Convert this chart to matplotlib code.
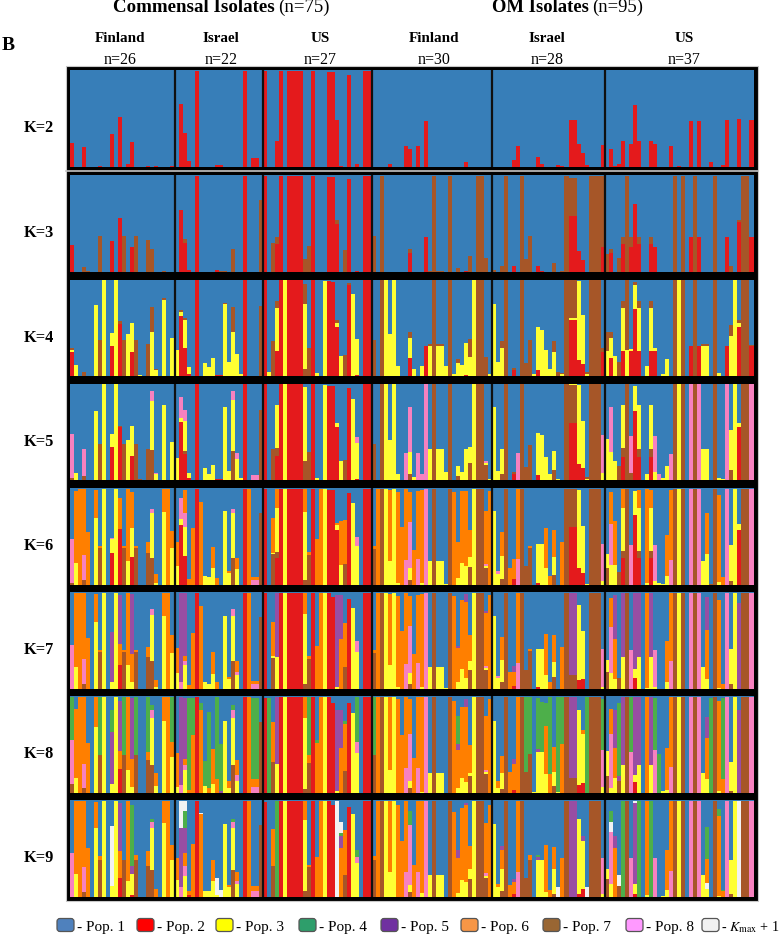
import matplotlib
matplotlib.use("Agg")
import matplotlib.pyplot as plt
from matplotlib.patches import FancyBboxPatch, Rectangle

plt.rcParams['font.family'] = ['Liberation Serif', 'DejaVu Serif']

# bar -> [(population, cumulative membership %), ...] bottom to top, the rest is pop. 1
# 1 blue, 2 red, 3 yellow, 4 green, 5 purple, 6 orange, 7 brown, 8 pink, 9 Kmax+1
group_names = ['Finland', 'Israel', 'US', 'Finland', 'Israel', 'US']
group_sizes = [26, 22, 27, 30, 28, 37]
k_values = [2, 3, 4, 5, 6, 7, 8, 9]
legend_names = ['Pop. 1', 'Pop. 2', 'Pop. 3', 'Pop. 4', 'Pop. 5', 'Pop. 6', 'Pop. 7', 'Pop. 8']

k2_red = {0: 24, 3: 20, 7: 1, 10: 34, 12: 51, 14: 3, 15: 25, 19: 1, 21: 1, 25: 1,
          27: 65, 28: 35, 29: 6, 31: 99, 36: 2, 37: 2, 43: 99, 45: 9, 46: 9,
          48: 99, 51: 26, 52: 99, 54: 99, 55: 99, 56: 99, 57: 99, 60: 99, 64: 98, 65: 98,
          66: 48, 67: 1, 69: 95, 71: 3, 73: 99, 74: 99,
          79: 3, 83: 21, 84: 18, 86: 21, 88: 47, 98: 5,
          110: 7, 111: 21, 116: 10, 117: 3, 121: 2, 122: 1, 124: 48, 125: 48, 126: 23, 127: 14, 128: 2, 132: 22,
          134: 18, 135: 1, 136: 3, 137: 26, 139: 23, 140: 64, 141: 26, 144: 26, 145: 23, 149: 21, 151: 1,
          154: 47, 156: 47, 159: 5, 162: 2, 163: 48, 166: 49, 169: 48}

k3 = {0: [(2, 27)], 3: [(7, 5)], 4: [(7, 1)], 7: [(7, 37)], 10: [(2, 32)], 12: [(2, 55)], 13: [(7, 37)],
      15: [(2, 25)], 16: [(7, 37)], 19: [(7, 33)], 20: [(7, 23)], 23: [(7, 1)],
      27: [(2, 64)], 28: [(2, 30), (7, 34)], 29: [(2, 2)], 31: [(2, 99)], 36: [(2, 2)], 37: [(7, 1)], 38: [(7, 1)],
      40: [(7, 23)], 43: [(2, 99)], 47: [(7, 74)],
      48: [(2, 99)], 50: [(7, 30)], 51: [(2, 28), (7, 36)], 52: [(2, 99)], 54: [(2, 99)], 55: [(2, 99)],
      56: [(2, 99)], 57: [(2, 99)], 58: [(7, 13)], 59: [(7, 26)], 60: [(2, 99)], 64: [(2, 98)], 65: [(2, 98)],
      66: [(2, 49), (7, 53)], 68: [(7, 22)], 69: [(2, 96)], 71: [(2, 1)], 73: [(2, 99)], 74: [(2, 99)],
      75: [(7, 37)], 77: [(7, 99)], 84: [(2, 19), (7, 23)], 88: [(2, 36)], 89: [(7, 1)], 90: [(7, 99)],
      91: [(7, 1)], 92: [(7, 1)], 94: [(7, 99)], 96: [(7, 4)], 98: [(2, 1)], 99: [(7, 16)],
      101: [(7, 99)], 102: [(7, 99)], 103: [(7, 14)],
      105: [(7, 2)], 107: [(7, 6)], 108: [(7, 99)], 110: [(2, 6)], 112: [(7, 99)], 113: [(7, 13)], 114: [(7, 37)],
      116: [(2, 6)], 117: [(2, 1)], 120: [(7, 9)], 122: [(7, 1)], 123: [(7, 99)],
      124: [(2, 58), (7, 97)], 125: [(2, 58), (7, 97)], 126: [(2, 21)], 127: [(2, 12)],
      129: [(7, 99)], 130: [(7, 99)], 131: [(7, 99)], 132: [(2, 25), (7, 99)],
      133: [(7, 18)], 134: [(2, 19), (7, 23)], 136: [(7, 14)], 137: [(2, 28), (7, 36)], 138: [(7, 99)],
      139: [(2, 25), (7, 36)], 140: [(2, 70)], 141: [(2, 28), (7, 36)], 144: [(2, 28), (7, 36)], 145: [(2, 25)],
      150: [(7, 99)], 152: [(7, 99)], 154: [(2, 36)], 155: [(7, 99)], 156: [(2, 36)], 160: [(7, 99)],
      163: [(2, 36)], 164: [(7, 6)], 166: [(2, 51), (7, 53)], 167: [(7, 99)], 168: [(7, 99)], 169: [(2, 36)]}

k4 = {0: [(2, 25), (3, 27), (7, 29)], 1: [(3, 11)], 3: [(7, 4)], 6: [(3, 74)], 7: [(7, 37)], 8: [(3, 99)],
      10: [(2, 31), (3, 45)], 11: [(3, 99)], 12: [(2, 54), (7, 57)], 13: [(7, 37)], 14: [(3, 44)],
      15: [(2, 25), (3, 55)], 16: [(7, 37)], 17: [(3, 1)], 19: [(7, 33)], 20: [(3, 46), (7, 72)],
      21: [(3, 6), (7, 7)], 23: [(3, 79), (7, 81)], 25: [(3, 39)],
      26: [(3, 27)], 27: [(2, 62), (3, 66), (7, 68)], 28: [(2, 29), (3, 58), (7, 60)], 29: [(2, 2), (3, 9)],
      31: [(2, 99)], 33: [(3, 13)], 34: [(3, 9)], 35: [(3, 19)], 36: [(2, 1)], 37: [(2, 1)], 38: [(3, 75), (7, 76)],
      39: [(3, 15)], 40: [(3, 46), (7, 72)], 41: [(3, 23)], 42: [(3, 2)], 43: [(2, 99)], 47: [(7, 73)],
      48: [(2, 99)], 49: [(3, 4)], 50: [(7, 36)], 51: [(2, 26), (3, 70), (7, 78)], 52: [(2, 99)], 53: [(3, 99)],
      54: [(2, 99)], 55: [(2, 99)], 56: [(2, 99)], 57: [(2, 99)], 58: [(7, 7), (3, 75), (7, 95)], 59: [(7, 29)],
      60: [(2, 99)], 61: [(3, 3)], 63: [(3, 98)], 64: [(2, 98)], 65: [(2, 97)], 66: [(2, 51), (3, 55), (7, 58)],
      67: [(3, 21)], 68: [(7, 22)], 69: [(2, 94), (7, 96)], 70: [(3, 85)], 71: [(2, 1), (3, 38)], 73: [(2, 99)], 74: [(2, 99)],
      75: [(7, 37)], 77: [(7, 99)], 78: [(3, 99)], 79: [(3, 44)], 80: [(3, 99)], 81: [(3, 10)],
      84: [(2, 19), (3, 39), (7, 46)], 85: [(3, 7)], 87: [(3, 10)], 88: [(2, 31)], 89: [(3, 31), (7, 33)], 90: [(7, 99)],
      91: [(3, 31), (7, 33)], 92: [(3, 31), (7, 33)], 93: [(3, 10)], 94: [(7, 99)], 95: [(3, 2)], 96: [(3, 13), (7, 18)],
      97: [(3, 11)], 98: [(2, 1), (3, 34)], 99: [(3, 20), (7, 38)], 100: [(3, 99)], 101: [(7, 99)], 102: [(7, 99)],
      103: [(7, 20)], 104: [(3, 2)],
      105: [(3, 75)], 106: [(3, 14)], 107: [(3, 29), (7, 36)], 108: [(7, 99)], 110: [(2, 6), (7, 8)], 112: [(7, 99)],
      113: [(7, 13)], 114: [(7, 37)], 115: [(3, 2)], 116: [(2, 6), (3, 51)], 117: [(3, 48)], 118: [(3, 27)], 119: [(3, 7)],
      120: [(3, 25), (7, 36)], 121: [(7, 4)], 122: [(3, 2), (7, 3)], 123: [(7, 99)],
      124: [(2, 58), (3, 60), (7, 99)], 125: [(2, 58), (3, 60), (7, 99)], 126: [(2, 17), (3, 98)], 127: [(2, 12), (3, 63)],
      128: [(3, 2), (7, 4)], 129: [(7, 99)], 130: [(7, 99)], 131: [(7, 99)], 132: [(2, 25), (7, 29)],
      133: [(3, 26), (7, 46)], 134: [(2, 19), (3, 39), (7, 46)], 135: [(3, 21)], 136: [(7, 15)],
      137: [(2, 26), (3, 70), (7, 78)], 138: [(3, 27), (7, 99)], 139: [(2, 26), (3, 28)], 140: [(2, 69), (3, 94), (7, 97)],
      141: [(2, 26), (3, 70), (7, 78)], 143: [(3, 10)], 144: [(2, 26), (3, 70), (7, 78)], 145: [(2, 26), (3, 29)],
      147: [(3, 2)], 148: [(3, 18)], 150: [(7, 99)], 151: [(3, 99)], 152: [(7, 99)], 154: [(2, 31)], 155: [(7, 99)],
      156: [(2, 31)], 157: [(3, 31), (7, 33)], 158: [(3, 31), (7, 33)], 160: [(7, 99)], 161: [(3, 3)], 163: [(2, 31)],
      164: [(3, 41), (7, 53)], 165: [(3, 99)], 166: [(2, 51), (3, 55), (7, 58)], 167: [(7, 99)], 168: [(7, 99)],
      169: [(2, 31), (7, 32)]}

k5 = {0: [(7, 2), (8, 48)], 1: [(3, 7)], 3: [(7, 4), (8, 32)], 6: [(3, 72)], 7: [(7, 37)], 8: [(3, 99)],
      10: [(2, 34), (3, 48)], 11: [(3, 99)], 12: [(2, 55), (7, 56)], 13: [(7, 37)], 14: [(3, 41)], 15: [(2, 25), (3, 56)],
      16: [(7, 37)], 17: [(7, 1)], 19: [(7, 32)], 20: [(7, 31), (3, 82), (8, 92)], 21: [(3, 6), (8, 7)], 23: [(3, 78)], 25: [(3, 39)],
      26: [(3, 23)], 27: [(2, 60), (3, 64), (8, 86)], 28: [(2, 27), (7, 30), (3, 61), (8, 73)], 29: [(2, 2), (3, 7)],
      31: [(2, 99)], 33: [(3, 12)], 34: [(3, 6)], 35: [(3, 16)], 36: [(2, 1)], 37: [(2, 1)], 38: [(3, 76)], 39: [(3, 9)],
      40: [(7, 30), (3, 83), (8, 92)], 41: [(3, 22), (8, 28)], 42: [(3, 2)], 43: [(2, 99)], 45: [(8, 5)], 46: [(8, 5)], 47: [(7, 73)],
      48: [(2, 99)], 50: [(7, 32)], 51: [(2, 25), (7, 33), (3, 78)], 52: [(2, 99)], 53: [(3, 99)], 54: [(2, 99)], 55: [(2, 99)],
      56: [(2, 99)], 57: [(2, 99)], 58: [(7, 20), (3, 96)], 59: [(7, 29)], 60: [(2, 99)], 61: [(3, 2)], 63: [(3, 98)],
      64: [(2, 97)], 65: [(2, 97)], 66: [(2, 55), (3, 59)], 67: [(3, 20)], 68: [(7, 21)], 69: [(2, 95)], 70: [(3, 84)],
      71: [(2, 1), (3, 38), (8, 45)], 73: [(2, 99)], 74: [(2, 99)],
      75: [(7, 37)], 77: [(7, 99)], 78: [(3, 99)], 79: [(3, 41)], 80: [(3, 99)], 81: [(3, 6)], 83: [(8, 28)],
      84: [(7, 6), (3, 29), (8, 76)], 85: [(3, 3)], 86: [(8, 28)], 87: [(8, 6)], 88: [(8, 99)], 89: [(3, 32)], 90: [(7, 99)],
      91: [(3, 32)], 92: [(3, 32)], 93: [(3, 8)], 94: [(7, 99)], 96: [(7, 4), (3, 15)], 97: [(3, 8)], 98: [(3, 32)],
      99: [(7, 18), (3, 34)], 100: [(3, 99)], 101: [(7, 99)], 102: [(7, 99)], 103: [(7, 16), (3, 18), (8, 20)], 104: [(3, 1)],
      105: [(3, 76)], 106: [(3, 9)], 107: [(7, 6), (3, 32)], 108: [(7, 99)], 110: [(2, 6), (7, 8)], 111: [(8, 28)], 112: [(7, 99)],
      113: [(7, 13)], 114: [(7, 36)], 116: [(2, 5), (3, 49)], 117: [(3, 47)], 118: [(3, 24)], 119: [(3, 6)],
      120: [(7, 10), (3, 30)], 121: [(3, 1)], 123: [(7, 99)], 124: [(2, 59), (7, 98), (3, 99)], 125: [(2, 59), (7, 98), (3, 99)],
      126: [(2, 17), (3, 98)], 127: [(2, 12), (3, 61)], 128: [(3, 1), (7, 3)], 129: [(7, 99)], 130: [(7, 99)], 131: [(7, 99)],
      132: [(3, 7), (8, 47)],
      133: [(3, 43)], 134: [(3, 29), (8, 76)], 135: [(3, 20)], 136: [(7, 15)], 137: [(2, 24), (7, 33), (3, 78)], 138: [(7, 99)],
      139: [(7, 7), (8, 46)], 140: [(2, 71), (3, 97)], 141: [(2, 24), (7, 32), (3, 78)], 143: [(3, 6)], 144: [(2, 24), (7, 32), (3, 78)],
      145: [(3, 8), (8, 46)], 146: [(8, 6)], 147: [(3, 2)], 148: [(3, 14)], 149: [(8, 27)], 150: [(7, 99)], 151: [(3, 99)],
      152: [(7, 99)], 154: [(8, 99)], 155: [(7, 99)], 156: [(8, 99)], 157: [(3, 32)], 158: [(3, 32)], 160: [(7, 99)],
      161: [(3, 2)], 162: [(3, 1)], 163: [(8, 99)], 164: [(7, 10), (3, 52)], 165: [(3, 99)], 166: [(2, 55), (3, 59)],
      167: [(7, 99)], 168: [(7, 99)], 169: [(8, 99)]}

k6 = {0: [(7, 2), (8, 47)], 1: [(3, 22), (6, 97)], 2: [(6, 99)], 3: [(7, 5), (8, 31), (6, 99)], 4: [(6, 54)],
      6: [(3, 69), (6, 98)], 7: [(7, 38), (6, 40)], 8: [(3, 99)], 10: [(2, 33), (3, 47), (8, 48)], 11: [(3, 99)],
      12: [(2, 58), (6, 90)], 13: [(7, 38), (6, 40)], 14: [(3, 24), (6, 99)], 15: [(2, 29), (3, 59), (6, 96)], 16: [(7, 38), (6, 40)],
      19: [(7, 33), (6, 44)], 20: [(7, 27), (3, 74), (8, 78)], 21: [(3, 2), (6, 11)], 23: [(3, 75), (6, 99)], 24: [(6, 99)],
      25: [(3, 38), (6, 55)],
      26: [(3, 19), (6, 44)], 27: [(2, 62), (3, 68), (8, 90)], 28: [(2, 30), (3, 60), (8, 74), (6, 98)], 29: [(6, 6)],
      30: [(6, 59)], 31: [(2, 99)], 32: [(6, 85)], 33: [(3, 9)], 34: [(3, 8)], 35: [(3, 17), (6, 39)], 36: [(6, 7)],
      38: [(3, 76)], 39: [(3, 12), (6, 14)], 40: [(7, 27), (3, 74), (8, 78)], 41: [(3, 16), (6, 27)], 43: [(2, 99)], 44: [(6, 99)],
      45: [(8, 5), (6, 8)], 46: [(8, 5), (6, 8)], 47: [(7, 74)],
      48: [(2, 99)], 50: [(7, 32), (3, 33), (6, 69)], 51: [(2, 27), (7, 34), (3, 79), (6, 99)], 52: [(2, 99)], 53: [(3, 99)],
      54: [(2, 99)], 55: [(2, 99)], 56: [(2, 99)], 57: [(2, 99)], 58: [(7, 5), (3, 75), (6, 99)], 59: [(7, 31), (6, 34)],
      60: [(2, 99)], 61: [(6, 47)], 62: [(6, 99)], 63: [(3, 99)], 64: [(2, 98)], 65: [(2, 98)], 66: [(2, 56), (3, 62), (6, 64)],
      67: [(3, 20), (6, 66)], 68: [(7, 21), (6, 67)], 69: [(2, 95)], 70: [(3, 84)], 71: [(3, 40), (8, 49)], 73: [(2, 99)], 74: [(2, 99)],
      75: [(7, 37), (6, 40)], 76: [(6, 99)], 77: [(7, 99)], 78: [(3, 99)], 79: [(3, 24), (6, 98)], 80: [(3, 99)], 81: [(3, 2), (6, 96)],
      82: [(6, 60)], 83: [(8, 25), (6, 99)], 84: [(7, 5), (3, 17), (8, 65), (6, 96)], 85: [(6, 36)], 86: [(8, 26), (6, 97)],
      87: [(3, 2), (6, 98)], 88: [(8, 99)], 89: [(3, 24)], 90: [(7, 99)], 91: [(3, 24)], 92: [(3, 24)], 93: [(3, 1)], 94: [(7, 99)],
      95: [(6, 96)], 96: [(3, 7), (6, 44)], 97: [(3, 22), (6, 97)], 98: [(3, 19), (6, 97)], 99: [(7, 18), (3, 28), (6, 56)],
      100: [(3, 99)], 101: [(7, 99)], 102: [(7, 99)], 103: [(7, 17), (3, 19), (8, 21), (6, 76)], 104: [(6, 97)],
      105: [(3, 76)], 106: [(3, 11), (8, 14)], 107: [(7, 6), (3, 30), (6, 54)], 108: [(7, 99)], 109: [(6, 17)], 110: [(2, 6), (6, 26)],
      111: [(8, 26), (6, 99)], 112: [(7, 99)], 113: [(7, 19)], 114: [(7, 38), (6, 40)], 116: [(2, 2), (3, 42)], 117: [(3, 42)],
      118: [(3, 17), (6, 59)], 119: [(6, 9)], 120: [(7, 10), (3, 28), (6, 56)], 122: [(6, 44)], 123: [(7, 99)],
      124: [(2, 60), (7, 99)], 125: [(2, 60), (7, 99)], 126: [(2, 17), (3, 98)], 127: [(2, 12), (3, 61)], 128: [(3, 1)],
      129: [(7, 99)], 130: [(7, 99)], 131: [(7, 99)], 132: [(3, 4), (8, 42)],
      133: [(7, 17), (3, 32)], 134: [(3, 20), (8, 63), (6, 96)], 135: [(3, 20), (6, 66)], 136: [(7, 13)], 137: [(2, 27), (7, 35), (3, 79), (6, 99)],
      138: [(7, 99)], 139: [(8, 41)], 140: [(2, 72), (3, 97)], 141: [(2, 27), (7, 35), (3, 79), (6, 98)], 143: [(3, 2), (6, 99)],
      144: [(2, 27), (7, 35), (3, 79), (6, 98)], 145: [(3, 4), (8, 41)], 146: [(3, 2)], 147: [(3, 1)], 148: [(3, 9), (6, 51)],
      149: [(8, 25), (6, 98)], 150: [(7, 99)], 151: [(3, 99)], 152: [(7, 99)], 154: [(8, 99)], 155: [(7, 99)], 156: [(8, 99)],
      157: [(3, 24)], 158: [(3, 32), (6, 74)], 159: [(7, 1)], 160: [(7, 99)], 161: [(3, 3), (6, 93)], 162: [(6, 8)], 163: [(8, 99)],
      164: [(7, 4), (3, 41)], 165: [(3, 99)], 166: [(2, 56), (3, 63)], 167: [(7, 99)], 168: [(7, 99)], 169: [(8, 99)]}

k7 = {0: [(8, 45)], 1: [(3, 22), (6, 99)], 2: [(6, 99)], 3: [(7, 5), (8, 31), (6, 99)], 4: [(6, 52)], 6: [(3, 69), (6, 98)],
      7: [(7, 38), (6, 40)], 8: [(3, 99)], 10: [(3, 7), (5, 59)], 11: [(3, 99)], 12: [(2, 24), (6, 46), (5, 97)], 13: [(7, 38), (6, 40)],
      14: [(3, 24), (6, 99)], 15: [(3, 7), (6, 36), (5, 98)], 16: [(7, 38), (6, 40)], 19: [(7, 33), (6, 43)], 20: [(7, 28), (3, 76), (8, 82)],
      21: [(3, 2), (6, 9)], 23: [(3, 75), (6, 99)], 24: [(6, 99)], 25: [(3, 37), (6, 55)],
      26: [(3, 16), (6, 42)], 27: [(8, 7), (5, 99)], 28: [(3, 24), (8, 28), (6, 34), (5, 99)], 29: [(6, 4)], 30: [(6, 57)], 31: [(2, 99)],
      32: [(6, 85)], 33: [(3, 7)], 34: [(3, 5)], 35: [(3, 15), (6, 38)], 36: [(6, 7)], 38: [(3, 75)], 39: [(3, 10), (6, 12)],
      40: [(7, 28), (3, 75), (8, 82)], 41: [(3, 14), (8, 17), (6, 28)], 43: [(2, 99)], 44: [(6, 99)], 45: [(8, 5), (6, 8)], 46: [(8, 5), (6, 8)], 47: [(7, 74)],
      48: [(2, 99)], 50: [(7, 32), (3, 34), (6, 69)], 51: [(3, 33), (5, 99)], 52: [(2, 99)], 53: [(3, 99)], 54: [(2, 99)], 55: [(2, 99)], 56: [(2, 99)], 57: [(2, 99)],
      58: [(7, 5), (3, 77), (6, 99)], 59: [(7, 31), (6, 34)], 60: [(2, 99)], 61: [(6, 44)], 62: [(6, 99)], 63: [(3, 99)], 64: [(2, 99)], 65: [(2, 95)],
      66: [(3, 2), (5, 97)], 67: [(6, 51), (5, 97)], 68: [(7, 22), (6, 68)], 69: [(2, 93)], 70: [(3, 83)], 71: [(3, 38), (8, 49)], 73: [(2, 99)], 74: [(2, 99)],
      75: [(7, 37), (6, 40)], 76: [(6, 99)], 77: [(7, 99)], 78: [(3, 99)], 79: [(3, 24), (6, 98)], 80: [(3, 99)], 81: [(3, 2), (6, 96)],
      82: [(6, 60)], 83: [(8, 25), (6, 99)], 84: [(7, 5), (3, 16), (8, 65), (6, 96)], 85: [(6, 36)], 86: [(8, 26), (6, 97)], 87: [(3, 2), (6, 98)],
      88: [(8, 99)], 89: [(3, 22)], 90: [(7, 99)], 91: [(3, 22)], 92: [(3, 22)], 93: [(3, 1)], 94: [(7, 99)], 95: [(6, 96)],
      96: [(3, 7), (6, 42), (5, 44)], 97: [(3, 20), (6, 92)], 98: [(3, 11), (6, 90), (5, 98)], 99: [(7, 19), (3, 28), (6, 55)], 100: [(3, 99)],
      101: [(7, 99)], 102: [(7, 99)], 103: [(7, 19), (3, 21), (8, 23), (6, 78), (5, 80)], 104: [(6, 97)],
      105: [(3, 75)], 106: [(3, 11), (8, 13)], 107: [(7, 7), (3, 30), (6, 53)], 108: [(7, 99)], 109: [(6, 17)], 110: [(2, 3), (6, 17), (5, 23)],
      111: [(8, 26), (6, 99)], 112: [(7, 99)], 113: [(7, 19)], 114: [(7, 39), (6, 41)], 116: [(2, 2), (3, 41)], 117: [(3, 41)], 118: [(3, 14), (6, 56)],
      119: [(6, 7)], 120: [(7, 12), (3, 27), (6, 55)], 122: [(6, 43)], 123: [(7, 99)], 124: [(7, 14), (5, 99)], 125: [(7, 14), (5, 99)],
      126: [(2, 9), (3, 87)], 127: [(2, 10), (3, 60)], 129: [(7, 99)], 130: [(7, 99)], 131: [(7, 99)], 132: [(3, 2), (8, 41)],
      133: [(7, 17), (3, 30)], 134: [(3, 16), (8, 64), (6, 94)], 135: [(3, 10), (6, 51), (5, 97)], 136: [(7, 11)], 137: [(3, 33), (5, 99)], 138: [(7, 99)],
      139: [(8, 40)], 140: [(2, 11), (3, 20), (5, 99)], 141: [(3, 33), (5, 99)], 143: [(3, 1), (6, 99)], 144: [(3, 33), (5, 99)], 145: [(3, 2), (8, 40)],
      148: [(3, 7), (6, 49)], 149: [(8, 28), (6, 99)], 150: [(7, 99)], 151: [(3, 99)], 152: [(7, 99)], 154: [(8, 99)], 155: [(7, 99)], 156: [(8, 99)],
      157: [(3, 22)], 158: [(3, 10), (6, 61), (5, 95)], 160: [(7, 99)], 161: [(3, 1), (6, 92)], 162: [(6, 5)], 163: [(8, 99)],
      164: [(7, 5), (3, 41)], 165: [(3, 99)], 166: [(5, 89)], 167: [(7, 99)], 168: [(7, 99)], 169: [(8, 99)]}

k8 = {0: [(7, 9), (8, 54), (4, 99)], 1: [(3, 15), (6, 87)], 2: [(6, 99)], 3: [(7, 5), (8, 30), (6, 99)], 4: [(6, 51)], 6: [(3, 68), (6, 99)],
      7: [(7, 39), (4, 99)], 8: [(3, 99)], 10: [(3, 9), (5, 63), (4, 85)], 11: [(3, 99)], 12: [(2, 24), (6, 43), (5, 95)], 13: [(7, 39), (4, 99)],
      14: [(3, 23), (6, 99)], 15: [(3, 6), (6, 35), (5, 98)], 16: [(7, 39), (4, 99)], 19: [(7, 34), (6, 42), (4, 99)], 20: [(7, 29), (3, 77), (8, 85), (4, 91)],
      21: [(3, 7), (6, 20)], 23: [(3, 74), (6, 99)], 24: [(6, 99)], 25: [(3, 37), (6, 52), (4, 99)],
      26: [(3, 6), (6, 41)], 27: [(8, 8), (5, 99)], 28: [(3, 23), (8, 29), (6, 35), (5, 98)], 29: [(6, 3), (4, 98)], 30: [(6, 60), (4, 98)], 31: [(2, 99)],
      32: [(6, 86), (4, 93)], 33: [(3, 7), (4, 33)], 34: [(6, 5), (4, 83)], 35: [(3, 9), (6, 45)], 36: [(6, 14), (4, 99)], 37: [(5, 2), (4, 50)],
      38: [(3, 74)], 39: [(3, 5), (6, 12)], 40: [(7, 29), (3, 77), (8, 85), (4, 91)], 41: [(3, 12), (8, 18), (6, 34)], 43: [(2, 99)], 44: [(6, 99)],
      45: [(8, 6), (6, 14), (4, 98)], 46: [(8, 6), (6, 14), (4, 98)], 47: [(7, 73)],
      48: [(2, 98)], 49: [(4, 98)], 50: [(7, 32), (6, 73)], 51: [(3, 30), (5, 99)], 52: [(2, 99)], 53: [(3, 99)], 54: [(2, 99)], 55: [(2, 99)], 56: [(2, 99)], 57: [(2, 99)],
      58: [(7, 4), (3, 77), (6, 99)], 59: [(7, 31), (6, 39), (4, 99)], 60: [(2, 99)], 61: [(6, 51), (4, 54)], 62: [(6, 99)], 63: [(3, 99)], 64: [(2, 99)], 65: [(2, 93)],
      66: [(3, 2), (5, 86)], 67: [(6, 46), (5, 85)], 68: [(7, 22), (6, 71), (4, 74)], 69: [(2, 93)], 70: [(3, 82)], 71: [(3, 41), (8, 52), (4, 99)], 73: [(2, 99)], 74: [(2, 99)],
      75: [(7, 39), (4, 99)], 76: [(6, 99)], 77: [(7, 99)], 78: [(3, 99)], 79: [(3, 23), (6, 99)], 80: [(3, 99)], 81: [(6, 97)], 82: [(6, 60)], 83: [(8, 25), (6, 99)],
      84: [(7, 5), (3, 12), (8, 61), (6, 97)], 85: [(6, 36)], 86: [(8, 25), (6, 99)], 87: [(3, 1), (6, 99)], 88: [(8, 99)], 89: [(3, 20)], 90: [(7, 99)], 91: [(3, 20)], 92: [(3, 20)],
      94: [(7, 99)], 95: [(6, 95)], 96: [(3, 5), (6, 44), (5, 50), (4, 79)], 97: [(3, 15), (6, 89)], 98: [(3, 11), (6, 89), (5, 97)], 99: [(7, 17), (3, 20), (6, 49)],
      100: [(3, 99)], 101: [(7, 99)], 102: [(7, 99)], 103: [(7, 19), (3, 21), (8, 23), (6, 79)], 104: [(6, 97)],
      105: [(3, 74)], 106: [(3, 5), (6, 12)], 107: [(7, 4), (3, 20), (6, 38)], 108: [(7, 99)], 109: [(6, 21)], 110: [(2, 3), (6, 30), (5, 35)], 111: [(6, 99)], 112: [(7, 99)],
      113: [(7, 21), (4, 99)], 114: [(7, 40), (4, 99)], 115: [(3, 1)], 116: [(3, 42), (5, 45), (4, 98)], 117: [(3, 42), (4, 94)], 118: [(3, 19), (6, 69), (4, 93)],
      119: [(6, 19), (4, 99)], 120: [(7, 7), (3, 21), (6, 47)], 121: [(3, 1), (4, 99)], 122: [(6, 50), (4, 99)], 123: [(7, 99)], 124: [(7, 15), (5, 99)], 125: [(7, 15), (5, 99)],
      126: [(2, 8), (3, 86)], 127: [(2, 10), (3, 61), (6, 65)], 128: [(4, 99)], 129: [(7, 99)], 130: [(7, 99)], 131: [(7, 99)], 132: [(3, 6), (8, 44), (4, 97)],
      133: [(7, 17), (3, 43)], 134: [(3, 5), (8, 61), (6, 87)], 135: [(3, 15), (6, 46), (5, 85)], 136: [(7, 12), (5, 17), (4, 93)], 137: [(3, 29), (5, 99)], 138: [(7, 99)],
      139: [(8, 42), (4, 99)], 140: [(2, 11), (3, 18), (5, 99)], 141: [(3, 29), (5, 99)], 143: [(6, 99)], 144: [(3, 29), (5, 99)], 145: [(8, 44), (4, 98)], 146: [(4, 40)],
      147: [(3, 2)], 148: [(3, 3), (6, 46)], 149: [(8, 26), (6, 99)], 150: [(7, 99)], 151: [(3, 99)], 152: [(7, 99)], 154: [(8, 99)], 155: [(7, 99)], 156: [(8, 99)],
      157: [(3, 20)], 158: [(3, 14), (6, 56), (5, 78)], 159: [(4, 98)], 160: [(7, 99)], 161: [(3, 2), (6, 95)], 162: [(6, 14), (4, 98)], 163: [(8, 99)],
      164: [(7, 2), (3, 32)], 165: [(3, 99)], 166: [(5, 86)], 167: [(7, 99)], 168: [(7, 99)], 169: [(8, 99)]}

k9 = {0: [(8, 45)], 1: [(3, 23), (6, 99)], 2: [(6, 99)], 3: [(7, 5), (8, 31), (6, 99)], 4: [(6, 50)], 6: [(3, 71), (6, 98)], 7: [(7, 38), (6, 42)], 8: [(3, 99)],
      10: [(3, 11), (9, 73)], 11: [(3, 99)], 12: [(2, 19), (6, 47), (5, 97)], 13: [(7, 38)], 14: [(3, 16), (6, 99)], 15: [(2, 2), (3, 23), (5, 32), (4, 95)],
      16: [(7, 38), (6, 43)], 19: [(7, 32), (6, 47)], 20: [(7, 27), (3, 71), (8, 77), (4, 80)], 21: [(6, 8)], 23: [(3, 76), (6, 99)], 24: [(6, 99)], 25: [(3, 38), (6, 53)],
      26: [(3, 17), (6, 40)], 27: [(8, 10), (5, 71), (9, 99)], 28: [(3, 21), (8, 32), (6, 45), (5, 71), (4, 89), (9, 99)], 29: [(2, 2), (6, 6)], 30: [(6, 54)], 31: [(2, 99)],
      32: [(6, 86), (9, 87)], 33: [(3, 6)], 34: [(3, 6)], 35: [(3, 16), (6, 38)], 36: [(3, 2), (9, 19)], 37: [(9, 7)], 38: [(3, 75)], 39: [(3, 10), (6, 12)],
      40: [(7, 27), (3, 71), (8, 77), (4, 80)], 41: [(3, 13), (8, 16), (6, 25)], 43: [(2, 99)], 44: [(6, 99)], 45: [(8, 6), (6, 11)], 46: [(8, 6), (6, 11)], 47: [(7, 74)],
      48: [(2, 98)], 50: [(7, 32), (6, 70)], 51: [(4, 99)], 52: [(2, 99)], 53: [(3, 99)], 54: [(2, 99)], 55: [(2, 99)], 56: [(2, 99)], 57: [(2, 99)],
      58: [(7, 6), (3, 79), (6, 99)], 59: [(7, 31), (6, 33)], 60: [(2, 99)], 61: [(6, 41)], 62: [(6, 99)], 63: [(3, 99)], 64: [(2, 99)], 65: [(2, 95)], 66: [(9, 99)],
      67: [(6, 50), (5, 63), (4, 66), (9, 77)], 68: [(7, 22), (6, 69)], 69: [(2, 93)], 70: [(3, 85)], 71: [(3, 35), (8, 41), (4, 48)], 73: [(2, 99)], 74: [(2, 99)],
      75: [(7, 38), (6, 42)], 76: [(6, 99)], 77: [(7, 99)], 78: [(3, 99)], 79: [(3, 25), (6, 99)], 80: [(3, 99)], 81: [(6, 95)], 82: [(6, 58)], 83: [(8, 25), (6, 99)],
      84: [(7, 5), (3, 12), (8, 74), (4, 89)], 85: [(6, 33)], 86: [(8, 25), (6, 99)], 87: [(3, 4), (6, 99)], 88: [(8, 99)], 89: [(3, 22)], 90: [(7, 99)], 91: [(3, 22)], 92: [(3, 22)],
      94: [(7, 99)], 95: [(6, 88)], 96: [(3, 4), (6, 40), (5, 48)], 97: [(3, 17), (6, 92)], 98: [(3, 15), (6, 95), (5, 97)], 99: [(7, 18), (3, 28), (6, 52)], 100: [(3, 99)],
      101: [(7, 99)], 102: [(7, 99)], 103: [(7, 19), (3, 21), (8, 24), (6, 76)], 104: [(6, 95)],
      105: [(3, 75)], 106: [(3, 10), (6, 13)], 107: [(7, 6), (3, 28), (6, 48), (5, 52)], 108: [(7, 99)], 109: [(6, 12)], 110: [(2, 3), (6, 15), (5, 18)], 111: [(8, 25), (6, 99)],
      112: [(7, 99)], 113: [(7, 19)], 114: [(7, 38), (6, 43)], 116: [(3, 38), (5, 41), (4, 43)], 117: [(3, 38)], 118: [(3, 5), (6, 53)], 119: [(6, 7)], 120: [(7, 3), (3, 28), (6, 51)],
      121: [(9, 10)], 122: [(6, 40)], 123: [(7, 99)], 124: [(5, 99)], 125: [(5, 99)], 126: [(2, 3), (3, 80)], 127: [(2, 8), (3, 57), (5, 63)], 128: [(9, 10)],
      129: [(7, 99)], 130: [(7, 99)], 131: [(7, 99)], 132: [(3, 3), (8, 40)],
      133: [(7, 18), (3, 28)], 134: [(3, 13), (8, 67), (9, 77), (4, 89)], 135: [(6, 50), (5, 63)], 136: [(7, 11), (9, 22)], 137: [(4, 99)], 138: [(7, 99)], 139: [(8, 40)],
      140: [(2, 3), (3, 13), (5, 97), (9, 99)], 141: [(4, 99)], 143: [(3, 2), (6, 99)], 144: [(4, 99)], 145: [(8, 40)], 147: [(3, 1)], 148: [(3, 7), (6, 48)], 149: [(8, 26), (6, 99)],
      150: [(7, 99)], 151: [(3, 99)], 152: [(7, 99)], 154: [(8, 99)], 155: [(7, 99)], 156: [(8, 99)], 157: [(3, 22)], 158: [(3, 8), (9, 14), (6, 39), (4, 72)], 160: [(7, 99)],
      161: [(3, 1), (6, 83), (4, 91)], 162: [(6, 6), (4, 7)], 163: [(8, 99)], 164: [(7, 3), (3, 38)], 165: [(3, 99)], 166: [(9, 99)], 167: [(7, 99)], 168: [(7, 99)], 169: [(8, 99)]}

panels = [{b: [(2, v)] for b, v in k2_red.items()}, k3, k4, k5, k6, k7, k8, k9]

bar_colors = {1: '#377eb8', 2: '#e41a1c', 3: '#ffff33', 4: '#4daf4a', 5: '#984ea3',
              6: '#ff7f00', 7: '#a65628', 8: '#f781bf', 9: '#f2f2f2'}
legend_colors = ['#4f81bd', '#ff0000', '#ffff00', '#2e9e6b', '#7030a0', '#f79646', '#996633', '#ff99ff', '#f2f2f2']
legend_x = [57, 137, 216, 299, 381, 461, 543, 626, 702]
label_x = [120, 221, 320, 434, 547, 684]
panel_top = [70, 175, 279.5, 383.5, 488, 592, 696, 800]

W, H = 780, 936
fig = plt.figure(figsize=(W / 100, H / 100), dpi=100)

# overlay in pixel units for the frame and the text
bg = fig.add_axes([0, 0, 1, 1])
bg.set_xlim(0, W)
bg.set_ylim(H, 0)
bg.axis('off')
bg.add_patch(Rectangle((66, 65.5), 691.5, 835, fc='black', ec='#c8c8c8', lw=0.8))
bg.plot([66, 757.5], [170.5, 170.5], color='#c4c4c4', lw=1.2)

n_bars = sum(group_sizes)
for k, top, stacks in zip(k_values, panel_top, panels):
    ax = fig.add_axes([70 / W, 1 - (top + 96.5) / H, 683.5 / W, 96.5 / H])
    ax.set_xlim(0, n_bars)
    ax.set_ylim(0, 100)
    ax.axis('off')
    for i in range(n_bars):
        prev = 0
        for pop, cum in stacks.get(i, []):
            ax.bar(i + 0.5, cum - prev, bottom=prev, width=1.02, color=bar_colors[pop], linewidth=0)
            prev = cum
        ax.bar(i + 0.5, 100 - prev, bottom=prev, width=1.02, color=bar_colors[1], linewidth=0)
    edge = 0
    for size in group_sizes[:-1]:
        edge += size
        ax.axvline(edge, color='#101010', lw=1.6)
    bg.text(38.5, top + 58, f'K={k}', ha='center', va='center', fontsize=11.8, fontweight='bold')

bg.text(275, 7.5, 'Commensal Isolates', ha='right', va='center', fontsize=13.6, fontweight='bold')
bg.text(278, 7.5, '(n=75)', ha='left', va='center', fontsize=13.6)
bg.text(589, 7.5, 'OM Isolates', ha='right', va='center', fontsize=13.4, fontweight='bold')
bg.text(592, 7.5, '(n=95)', ha='left', va='center', fontsize=13.4)
bg.text(2, 45, 'B', ha='left', va='center', fontsize=14, fontweight='bold')

for x, name, size in zip(label_x, group_names, group_sizes):
    bg.text(x, 38.5, name, ha='center', va='center', fontsize=10.9, fontweight='bold')
    bg.text(x, 59.5, f'n={size}', ha='center', va='center', fontsize=11.5)

for x, color, name in zip(legend_x, legend_colors, legend_names + ['']):
    bg.add_patch(FancyBboxPatch((x + 1.5, 920), 14, 10, boxstyle='round,pad=1.5,rounding_size=3',
                                fc=color, ec='#555555', lw=0.9))
    if name:
        bg.text(x + 20, 927, f'- {name}', ha='left', va='center', fontsize=11)
bg.text(721, 927, r'- $\mathit{K}_{\mathrm{max}}$ + 1', ha='left', va='center', fontsize=10.2, math_fontfamily='stix')

fig.savefig('out.png', dpi=100)
